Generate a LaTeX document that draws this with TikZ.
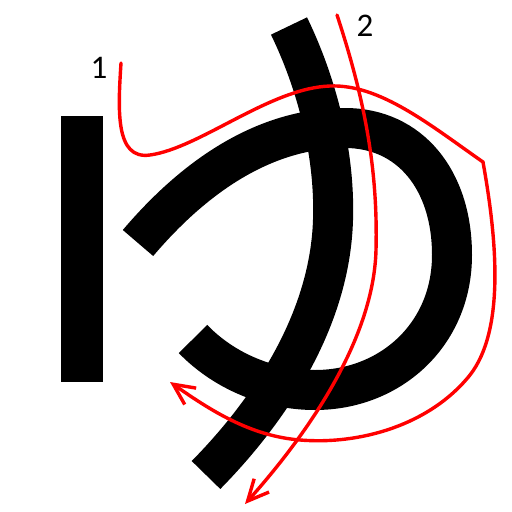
\documentclass[tikz,border=0pt]{standalone}
\usepackage{fontspec}
\setmainfont{Carlito}
\usetikzlibrary{arrows.meta}
\tikzset{
  glyph/.style={line width=40pt, line cap=butt, black},
  order/.style={line width=3.4pt, red, line cap=round, line join=miter},
  orderarrow/.style={order, -{Straight Barb[length=21pt, width=20pt, line width=3.4pt]}},
  numlabel/.style={font=\fontsize{33}{33}\selectfont, inner sep=0pt, text=black}
}
\begin{document}
\begin{tikzpicture}[x=1pt, y=-1pt]
\useasboundingbox (0,0) rectangle (512,512);
% left vertical bar
\fill[black] (61,116) rectangle (103,382);
% big curved stroke
\draw[glyph] (138,243) .. controls (200,170) and (270,128) .. (345,128)
  .. controls (410,128) and (452,180) .. (452,255)
  .. controls (452,335) and (390,390) .. (315,390)
  .. controls (270,390) and (225,372) .. (193,339);
% long curved down stroke
\draw[glyph] (289,26) .. controls (320,90) and (335,160) .. (333,220)
  .. controls (330,320) and (270,410) .. (206,475);
% red order stroke 1
\draw[orderarrow] (121,63) .. controls (118,110) and (115,160) .. (150,155)
  .. controls (200,148) and (270,88) .. (330,86)
  .. controls (380,84) and (430,125) .. (483,162)
  .. controls (497,240) and (505,330) .. (470,375)
  .. controls (430,425) and (360,445) .. (300,440)
  .. controls (250,436) and (210,410) .. (170,382);
% red order stroke 2
\draw[orderarrow] (337,15) .. controls (365,100) and (378,170) .. (376,250)
  .. controls (374,330) and (320,420) .. (245,504);
\node[numlabel] (n1) at (99,68) {1};
\node[numlabel] (n2) at (365,26) {2};
\end{tikzpicture}
\end{document}
